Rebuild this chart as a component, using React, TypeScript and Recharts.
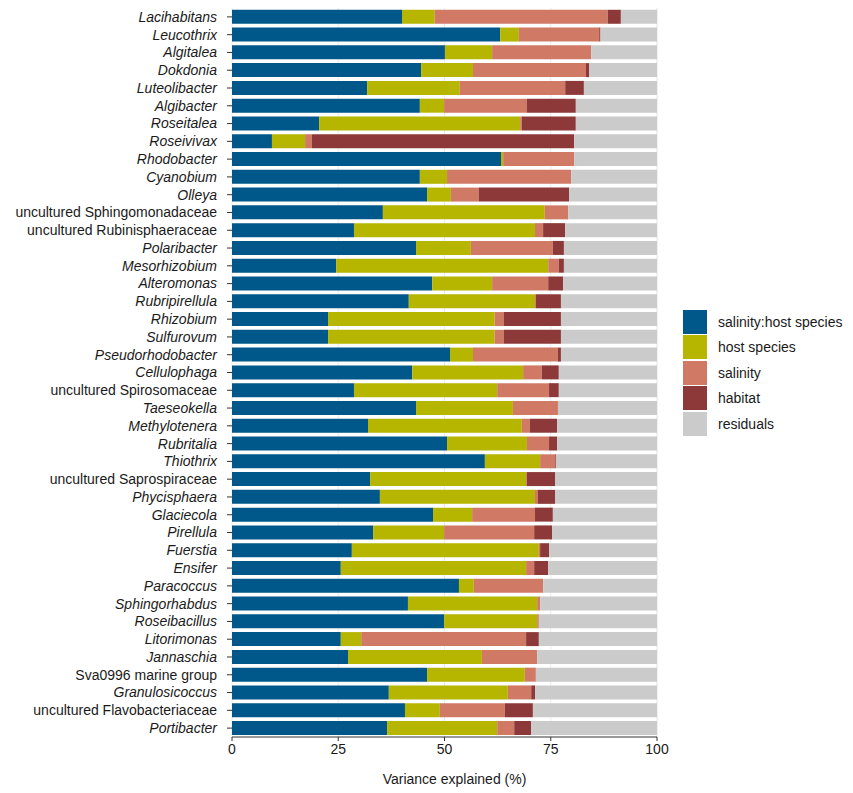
import React from 'react';
import { BarChart, Bar, XAxis, YAxis, CartesianGrid, Legend } from 'recharts';

document.body.style.margin = '0';

const taxa = [
    'Lacihabitans', 'Leucothrix', 'Algitalea', 'Dokdonia', 'Luteolibacter', 'Algibacter',
    'Roseitalea', 'Roseivivax', 'Rhodobacter', 'Cyanobium', 'Olleya',
    'uncultured Sphingomonadaceae', 'uncultured Rubinisphaeraceae', 'Polaribacter',
    'Mesorhizobium', 'Alteromonas', 'Rubripirellula', 'Rhizobium', 'Sulfurovum',
    'Pseudorhodobacter', 'Cellulophaga', 'uncultured Spirosomaceae', 'Taeseokella',
    'Methylotenera', 'Rubritalia', 'Thiothrix', 'uncultured Saprospiraceae', 'Phycisphaera',
    'Glaciecola', 'Pirellula', 'Fuerstia', 'Ensifer', 'Paracoccus', 'Sphingorhabdus',
    'Roseibacillus', 'Litorimonas', 'Jannaschia', 'Sva0996 marine group', 'Granulosicoccus',
    'uncultured Flavobacteriaceae', 'Portibacter',
];

const salinityHost = [
    40.0, 63.1, 50.1, 44.5, 31.8, 44.2, 20.5, 9.4, 63.3, 44.2, 45.9,
    35.5, 28.7, 43.3, 24.5, 47.1, 41.6, 22.6, 22.6, 51.3, 42.4,
    28.7, 43.3, 32.0, 50.6, 59.5, 32.5, 34.8, 47.3, 33.2, 28.2,
    25.6, 53.4, 41.4, 49.9, 25.6, 27.3, 45.9, 36.9, 40.7, 36.5,
];
const hostSpecies = [
    7.7, 4.4, 11.1, 12.2, 21.8, 5.7, 47.3, 7.8, 0.5, 6.4, 5.6,
    38.1, 42.6, 12.9, 49.9, 14.1, 29.7, 39.2, 39.2, 5.4, 26.1,
    33.7, 22.8, 36.2, 18.8, 13.0, 36.7, 36.5, 9.2, 16.7, 44.0,
    43.6, 3.5, 30.4, 21.9, 4.8, 31.5, 23.0, 28.0, 8.2, 25.9,
];
const salinity = [
    40.7, 18.9, 23.3, 26.6, 24.8, 19.5, 0.4, 1.6, 16.7, 29.2, 6.6,
    5.5, 1.9, 19.3, 2.5, 13.2, 0.2, 2.2, 2.2, 20.0, 4.4,
    12.2, 10.6, 1.9, 5.2, 3.5, 0.2, 0.7, 14.8, 21.2, 0.3,
    1.9, 16.3, 0.7, 0.4, 38.8, 13.0, 2.6, 5.5, 15.3, 4.0,
];
const habitat = [
    3.1, 0.3, 0, 0.7, 4.4, 11.5, 12.7, 61.7, 0, 0, 21.2,
    0, 5.2, 2.6, 1.2, 3.5, 5.9, 13.4, 13.4, 0.7, 4.0,
    2.3, 0, 6.4, 1.9, 0.2, 6.6, 4.0, 4.2, 4.2, 2.1,
    3.3, 0, 0, 0, 3.0, 0, 0, 0.9, 6.6, 4.0,
];
const residuals = [
    8.5, 13.3, 15.5, 16.0, 17.2, 19.1, 19.1, 19.5, 19.5, 20.2, 20.7,
    20.9, 21.6, 21.9, 21.9, 22.1, 22.6, 22.6, 22.6, 22.6, 23.1,
    23.1, 23.3, 23.5, 23.5, 23.8, 24.0, 24.0, 24.5, 24.7, 25.4,
    25.6, 26.8, 27.5, 27.8, 27.8, 28.2, 28.5, 28.7, 29.2, 29.6,
];

const xTicks = [0, 25, 50, 75, 100];

const series = [
    { key: 'salinityHost', name: 'salinity:host species', color: '#00588A' },
    { key: 'hostSpecies', name: 'host species', color: '#B6B600' },
    { key: 'salinity', name: 'salinity', color: '#D07A66' },
    { key: 'habitat', name: 'habitat', color: '#8E3939' },
    { key: 'residuals', name: 'residuals', color: '#CBCBCB' },
];

const data = taxa.map((taxon, i) => ({
    taxon,
    salinityHost: salinityHost[i],
    hostSpecies: hostSpecies[i],
    salinity: salinity[i],
    habitat: habitat[i],
    residuals: residuals[i],
}));

const FONT = '"Liberation Sans", Arial, sans-serif';

// genus names in italics, the unclassified groups upright
function TaxonTick(props: any) {
    const { x, y, payload } = props;
    const upright = payload.value.startsWith('uncultured') || payload.value.startsWith('Sva0996');
    return (
        <text
            x={x}
            y={y}
            dy="0.35em"
            textAnchor="end"
            fontSize={14}
            fontFamily={FONT}
            fontStyle={upright ? 'normal' : 'italic'}
            fill="#1a1a1a"
        >
            {payload.value}
        </text>
    );
}

function KeyBox() {
    return (
        <div style={{ fontFamily: FONT, fontSize: 14, color: '#1a1a1a' }}>
            {series.map((s) => (
                <div key={s.key} style={{ display: 'flex', alignItems: 'center', height: 25.5 }}>
                    <div style={{ width: 24, height: 24, background: s.color, marginRight: 11 }} />
                    <span>{s.name}</span>
                </div>
            ))}
        </div>
    );
}

function AxisTitle(props: any) {
    const { viewBox } = props;
    return (
        <text
            x={viewBox.x + viewBox.width / 2 + 10}
            y={viewBox.y + viewBox.height - 9}
            textAnchor="middle"
            fontSize={14}
            fontFamily={FONT}
            fill="#1a1a1a"
        >
            Variance explained (%)
        </text>
    );
}

export default function App() {
    return (
        <BarChart
            width={853}
            height={793}
            data={data}
            layout="vertical"
            margin={{ top: 8, right: 196, bottom: 0, left: 0 }}
            barCategoryGap="10%"
        >
            <CartesianGrid horizontal={false} stroke="#EBEBEB" strokeWidth={1} />
            <XAxis
                type="number"
                domain={[0, 100]}
                ticks={xTicks}
                height={56}
                tickSize={4}
                tickMargin={3}
                stroke="#333"
                tick={{ fill: '#1a1a1a', fontSize: 14, fontFamily: FONT }}
                label={<AxisTitle />}
            />
            <YAxis
                type="category"
                dataKey="taxon"
                width={232}
                axisLine={false}
                tickSize={5}
                tickMargin={10}
                tickLine={{ stroke: '#333' }}
                tick={<TaxonTick />}
                interval={0}
            />
            <Legend
                layout="vertical"
                align="center"
                verticalAlign="middle"
                content={<KeyBox />}
                wrapperStyle={{ left: 683, top: 309, width: 170 }}
            />
            {series.map((s) => (
                <Bar
                    key={s.key}
                    dataKey={s.key}
                    name={s.name}
                    stackId="v"
                    fill={s.color}
                    isAnimationActive={false}
                />
            ))}
        </BarChart>
    );
}
